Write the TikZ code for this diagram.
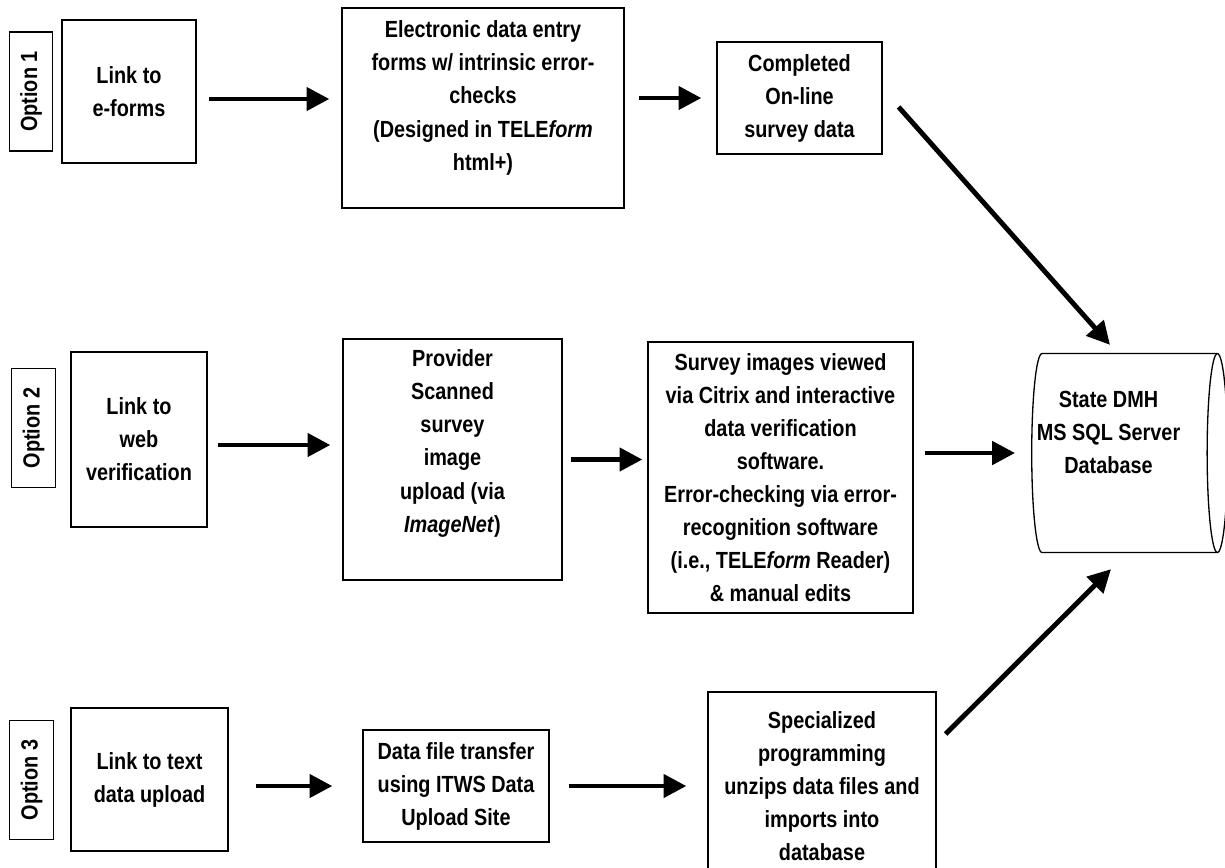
\documentclass[tikz,border=0pt]{standalone}
\usepackage{fontspec}
\setmainfont{Liberation Sans}[FakeStretch=0.85]
\usetikzlibrary{arrows.meta,shapes.geometric}
\begin{document}
\begin{tikzpicture}[x=0.02cm,y=-0.02cm,
	every node/.style={font=\bfseries\fontsize{13.3}{18.8}\selectfont},
	box/.style={draw,line width=0.75pt,align=center,inner sep=1pt},
	optbox/.style={box,rotate=90,minimum width=2.38cm,minimum height=0.87cm},
	arr/.style={line width=2.8pt,-{Triangle[length=13pt,width=13pt]}}]
	  \path[use as bounding box] (0,0) rectangle (1225,867);
	  \clip (0,0) rectangle (1225,867);
	  \node (opt1) [optbox] at (31,91.5) {Option 1};
	  \node (eforms) [box,minimum width=2.68cm,minimum height=2.86cm] at (129,91.5) {Link to\\e-forms};
	  \node (entry) [box,minimum width=5.64cm,minimum height=4cm,text depth=0.5cm] at (483,108) {Electronic data entry\\forms w/ intrinsic error-\\checks\\(Designed in TELE\textit{form}\\html+)};
	  \node (done) [box,minimum width=3.3cm,minimum height=2.24cm] at (799.5,98) {Completed\\On-line\\survey data};
	  \node (opt2) [optbox] at (33.5,428) {Option 2};
	  \node (web) [box,minimum width=2.72cm,minimum height=3.5cm] at (139,439.5) {Link to\\web\\verification};
	  \node (scan) [box,minimum width=4.38cm,minimum height=4.82cm,text depth=0.74cm] at (452.5,459.5) {Provider\\Scanned\\survey\\image\\upload (via\\\textit{ImageNet})};
	  \node (verify) [box,minimum width=5.3cm,minimum height=5.42cm] at (780.5,477.5) {Survey images viewed\\via Citrix and interactive\\data verification\\software.\\Error-checking via error-\\recognition software\\(i.e., TELE\textit{form} Reader)\\\& manual edits};
	  \node (db) [draw,line width=0.75pt,cylinder,shape aspect=0.14,text height=2.7cm,minimum width=3.98cm,minimum height=3.92cm,
	    label={[name=dbtext,align=center,xshift=-0.28cm,yshift=0.42cm]center:State DMH\\MS SQL Server\\Database}] at (1122.5,453) {};
	  \node (opt3) [optbox] at (31.5,780) {Option 3};
	  \node (textup) [box,minimum width=3.14cm,minimum height=2.86cm] at (149.5,779.5) {Link to text\\data upload};
	  \node (xfer) [box,minimum width=3.72cm,minimum height=2.24cm] at (456,786) {Data file transfer\\using ITWS Data\\Upload Site};
	  \node (unzip) [box,minimum width=4.56cm,minimum height=3.76cm] at (822,786) {Specialized\\programming\\unzips data files and\\imports into\\database};
	  \draw[arr,shorten <=0.24cm,shorten >=0.24cm] ([yshift=-0.15cm]eforms.east) -- ([yshift=-0.15cm]eforms.east -| entry.west);
	  \draw[arr,shorten <=0.28cm,shorten >=0.3cm] (entry.east |- done.west) -- (done.west);
	  \draw[arr] ([shift={(0.32cm,-0.18cm)}]done.east) -- ([shift={(-0.25cm,0.16cm)}]db.north);
	  \draw[arr,shorten <=0.2cm,shorten >=0.24cm] ([yshift=-0.11cm]web.east) -- ([yshift=-0.11cm]web.east -| scan.west);
	  \draw[arr,shorten <=0.16cm,shorten >=0.1cm] (scan.east) -- (scan.east -| verify.west);
	  \draw[arr,shorten <=0.22cm,shorten >=0.32cm] (db.west -| verify.east) -- (db.west);
	  \draw[arr,shorten <=0.54cm,shorten >=0.6cm] (textup.east |- xfer.west) -- (xfer.west);
	  \draw[arr,shorten <=0.38cm,shorten >=0.42cm] (xfer.east) -- (xfer.east -| unzip.west);
	  \draw[arr] ([shift={(0.18cm,1.04cm)}]unzip.east) -- ([shift={(-0.23cm,-0.32cm)}]db.south);
	\end{tikzpicture}
\end{document}
